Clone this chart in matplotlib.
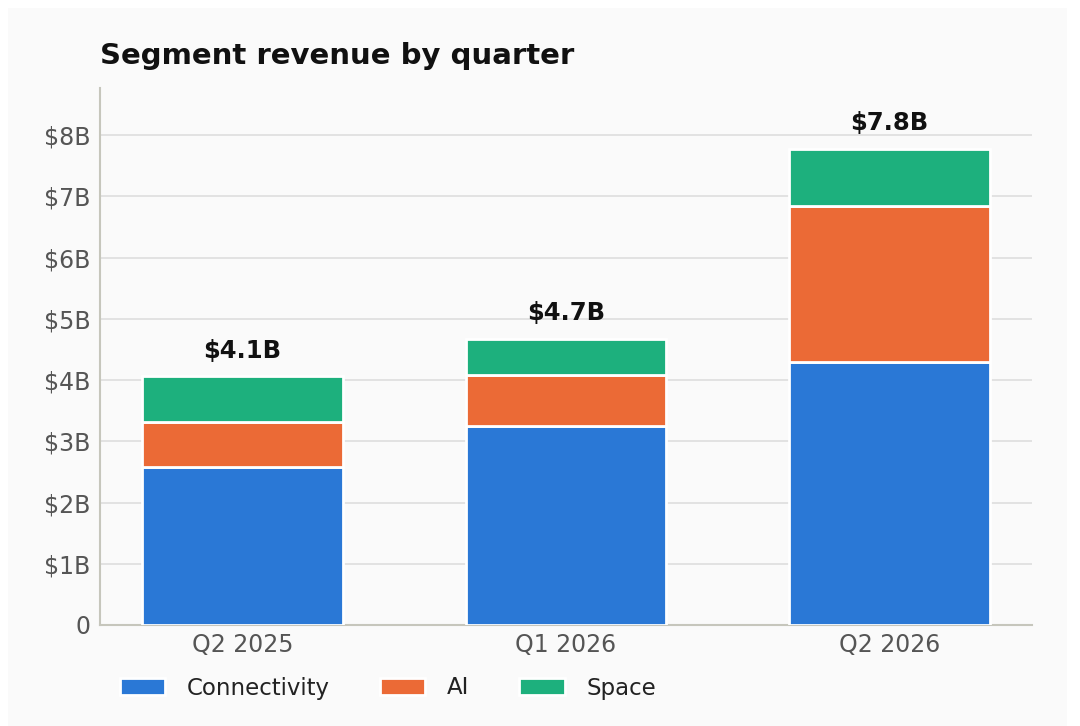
import numpy as np
import matplotlib
matplotlib.use("Agg")
import matplotlib.pyplot as plt
from matplotlib.patches import Rectangle

quarters = ["Q2 2025", "Q1 2026", "Q2 2026"]
connectivity = [2.58, 3.25, 4.29]
ai = [0.73, 0.83, 2.55]
space = [0.75, 0.59, 0.93]
totals = ["$4.1B", "$4.7B", "$7.8B"]
yticks = [0, 1, 2, 3, 4, 5, 6, 7, 8]
ytick_labels = ["0", "$1B", "$2B", "$3B", "$4B", "$5B", "$6B", "$7B", "$8B"]

blue = "#2a78d6"
orange = "#eb6a36"
green = "#1db07d"
bg = "#fafafa"

fig = plt.figure(figsize=(10.8, 7.26), dpi=100)
fig.patch.set_facecolor("white")
# light panel behind the chart
panel = Rectangle((8 / 1080, 0), 1059 / 1080, 718 / 726,
                  transform=fig.transFigure, facecolor=bg,
                  edgecolor="none", zorder=-10)
fig.add_artist(panel)

ax = fig.add_axes([100 / 1080, 1 - 625 / 726, 932 / 1080, 537 / 726])
ax.set_zorder(1)
ax.set_facecolor(bg)

x = np.arange(len(quarters))
w = 0.62
conn = np.array(connectivity)
a = np.array(ai)
s = np.array(space)

ax.bar(x, conn, w, color=blue, edgecolor="white", linewidth=2, label="Connectivity", zorder=3)
ax.bar(x, a, w, bottom=conn, color=orange, edgecolor="white", linewidth=2, label="AI", zorder=3)
ax.bar(x, s, w, bottom=conn + a, color=green, edgecolor="white", linewidth=2, label="Space", zorder=3)

top = conn + a + s
for xi, t, lab in zip(x, top, totals):
    ax.annotate(lab, (xi, t), xytext=(0, 10), textcoords="offset points",
                ha="center", va="bottom", fontsize=17.5, fontweight="bold",
                color="#111111")

ax.set_xlim(-0.44, 2.44)
ax.set_ylim(0, 8.77)
ax.set_xticks(x)
ax.set_xticklabels(quarters)
ax.set_yticks(yticks)
ax.set_yticklabels(ytick_labels)
ax.tick_params(axis="both", length=0, labelsize=17, labelcolor="#555555")
ax.tick_params(axis="y", pad=7)
ax.tick_params(axis="x", pad=6)

ax.grid(axis="y", color="#dedede", linewidth=1.2, zorder=0)
ax.set_axisbelow(True)
for side in ["top", "right"]:
    ax.spines[side].set_visible(False)
for side in ["left", "bottom"]:
    ax.spines[side].set_color("#c6c6bc")
    ax.spines[side].set_linewidth(1.5)

ax.set_title("Segment revenue by quarter", loc="left", fontsize=21,
             fontweight="bold", color="#111111", pad=17)

leg = fig.legend(loc="center left", bbox_to_anchor=(99 / 1080, 1 - 688 / 726),
                 ncol=3, frameon=False, fontsize=16.5, handlelength=2.0,
                 handleheight=0.8, handletextpad=0.95, columnspacing=2.15)
for t in leg.get_texts():
    t.set_color("#222222")

fig.savefig("out.png", dpi=100, facecolor=fig.get_facecolor())
